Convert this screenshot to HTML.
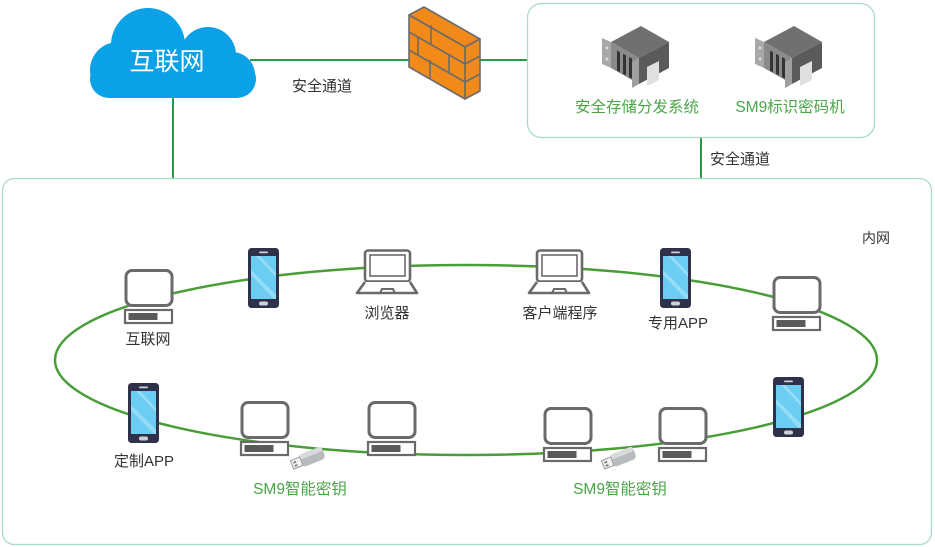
<!DOCTYPE html>
<html><head><meta charset="utf-8"><style>
html,body{margin:0;padding:0;background:#fff;}
svg{display:block;}
text{font-family:"Liberation Sans","Noto Sans CJK SC",sans-serif;}
</style></head><body>
<svg width="935" height="547" viewBox="0 0 935 547" xmlns="http://www.w3.org/2000/svg">
<defs>
<symbol id="pc" viewBox="0 0 50 56" width="50" height="56" overflow="visible">
 <rect x="2" y="1.5" width="46" height="35" rx="6" fill="#fff" stroke="#6a6a6a" stroke-width="3"/>
 <rect x="1" y="41" width="47" height="13" fill="#fff" stroke="#6a6a6a" stroke-width="2.2"/>
 <rect x="4.5" y="44" width="29" height="7" fill="#5a5a5a"/>
</symbol>
<symbol id="ph" viewBox="0 0 31 60" width="31" height="60" overflow="visible">
 <rect x="0" y="0" width="31" height="60" rx="3.5" fill="#2f3049"/>
 <rect x="3" y="8" width="25" height="43" fill="#6ccdf2"/>
 <path d="M12 8 L28 25 L28 29 L8 8Z M3 22 L28 47 L28 51 L26 51 L3 27Z" fill="#a6e3f8" opacity="0.7"/>
 <rect x="11" y="3.5" width="9" height="1.8" rx="0.9" fill="#cfd0d8"/>
 <rect x="11" y="53.5" width="9" height="4" rx="2" fill="#cfd0d8"/>
</symbol>
<symbol id="lp" viewBox="0 0 62 46" width="62" height="46" overflow="visible">
 <rect x="9" y="1.5" width="45" height="31" rx="3" fill="#fff" stroke="#6a6a6a" stroke-width="2.6"/>
 <rect x="14" y="6" width="35" height="21" fill="#fff" stroke="#6a6a6a" stroke-width="1.6"/>
 <path d="M9 33 L1 44 L61 44 L54 33" fill="#fff" stroke="#6a6a6a" stroke-width="2.6" stroke-linejoin="round"/>
 <path d="M24 44 L26 40 L37 40 L39 44" fill="none" stroke="#6a6a6a" stroke-width="2"/>
</symbol>
<symbol id="usb" viewBox="0 0 36 22" width="36" height="22" overflow="visible">
 <g transform="rotate(-22 18 11)">
  <rect x="10" y="4" width="25" height="13" rx="4" fill="#b9bcbf"/>
  <rect x="10" y="4" width="25" height="5" rx="2.5" fill="#d8dadc"/>
  <rect x="1" y="6" width="10" height="9" fill="#f2f2f2" stroke="#9a9a9a" stroke-width="1"/>
  <rect x="3" y="8" width="3" height="2" fill="#888"/><rect x="3" y="11.5" width="3" height="2" fill="#888"/>
 </g>
</symbol>
<symbol id="srv" viewBox="0 0 75 65" width="75" height="65" overflow="visible">
 <polygon points="14,20 44,4 72,20 42,36" fill="#707070"/>
 <polygon points="42,36 72,20 72,46 42,62" fill="#5a5a5a"/>
 <polygon points="14,20 42,36 42,62 14,46" fill="#8a8a8a"/>
 <polygon points="5,16 14,20 14,46 5,42" fill="#a8a8a8"/>
 <polygon points="35,40 42,36 42,62 35,66" fill="#a0a0a0"/>
 <rect x="20" y="29" width="3" height="20" fill="#333" transform="skewY(28) translate(0,-11)"/>
 <rect x="26" y="32" width="3" height="20" fill="#333" transform="skewY(28) translate(0,-14)"/>
 <rect x="32" y="35" width="3" height="20" fill="#333" transform="skewY(28) translate(0,-17)"/>
 <polygon points="50,49 62,43 62,62 50,68" fill="#e0e0e0" transform="translate(0,-4)"/>
 <circle cx="10" cy="26" r="1.5" fill="#ddd"/><circle cx="10" cy="37" r="1.5" fill="#ddd"/>
</symbol>
</defs>

<line x1="250" y1="60" x2="527" y2="60" stroke="#2a9a4a" stroke-width="2"/>
<line x1="173" y1="95" x2="173" y2="178" stroke="#2a9a4a" stroke-width="2"/>
<line x1="701" y1="138" x2="701" y2="178" stroke="#2a9a4a" stroke-width="2"/>

<g fill="#0aa1e6">
 <circle cx="148" cy="45" r="37"/>
 <circle cx="208" cy="55" r="28"/>
 <circle cx="118" cy="70" r="28"/>
 <circle cx="232" cy="75" r="23"/>
 <rect x="90" y="60" width="166" height="38" rx="19"/>
</g>
<text x="167" y="70" font-size="25" fill="#fff" text-anchor="middle">互联网</text>
<text x="322" y="91" font-size="15" fill="#333" text-anchor="middle">安全通道</text>

<g stroke="#6b6b6b" stroke-width="1.6" stroke-linejoin="round">
 <polygon points="409,15 424,7 480,39 465,47" fill="#f28a1a"/>
 <polygon points="465,47 480,39 480,91 465,99" fill="#f28a1a"/>
 <polygon points="409,15 465,47 465,99 409,67" fill="#f28a1a"/>
 <path d="M409 32 L465 64 M409 50 L465 82 M465 64 L480 56 M465 82 L480 74 M431 25 L431 45 M449 54 L449 74 M430 60 L430 78 M418 37 L418 55" fill="none"/>
</g>

<rect x="527.5" y="3.5" width="347" height="134" rx="14" fill="none" stroke="#a9dcc2" stroke-width="1.3"/>
<use href="#srv" x="597" y="22"/>
<use href="#srv" x="750" y="22"/>
<text x="637" y="112" font-size="15.5" fill="#4aa548" text-anchor="middle">安全存储分发系统</text>
<text x="790" y="112" font-size="15.5" fill="#4aa548" text-anchor="middle">SM9标识密码机</text>
<text x="740" y="164" font-size="15" fill="#333" text-anchor="middle">安全通道</text>

<rect x="2.5" y="178.5" width="929" height="366" rx="12" fill="none" stroke="#a9dcc2" stroke-width="1.3"/>
<text x="876" y="243" font-size="14" fill="#333" text-anchor="middle">内网</text>

<ellipse cx="466" cy="360" rx="411" ry="95" fill="none" stroke="#4a9e3a" stroke-width="2.5"/>

<use href="#pc" x="124" y="269"/>
<text x="148" y="344" font-size="15" fill="#333" text-anchor="middle">互联网</text>
<use href="#ph" x="248" y="248"/>
<use href="#lp" x="356" y="249"/>
<text x="387" y="318" font-size="15" fill="#333" text-anchor="middle">浏览器</text>
<use href="#lp" x="528" y="249"/>
<text x="560" y="318" font-size="15" fill="#333" text-anchor="middle">客户端程序</text>
<use href="#ph" x="660" y="248"/>
<text x="678" y="328" font-size="15" fill="#333" text-anchor="middle">专用APP</text>
<use href="#pc" x="772" y="276"/>

<use href="#ph" x="128" y="383"/>
<text x="144" y="466" font-size="15" fill="#333" text-anchor="middle">定制APP</text>
<use href="#pc" x="240" y="401"/>
<use href="#usb" x="290" y="448"/>
<text x="300" y="494" font-size="15.5" fill="#4aa548" text-anchor="middle">SM9智能密钥</text>
<use href="#pc" x="367" y="401"/>
<use href="#pc" x="543" y="407"/>
<use href="#usb" x="601" y="448"/>
<text x="620" y="494" font-size="15.5" fill="#4aa548" text-anchor="middle">SM9智能密钥</text>
<use href="#pc" x="658" y="407"/>
<use href="#ph" x="773" y="377"/>
</svg>
</body></html>
